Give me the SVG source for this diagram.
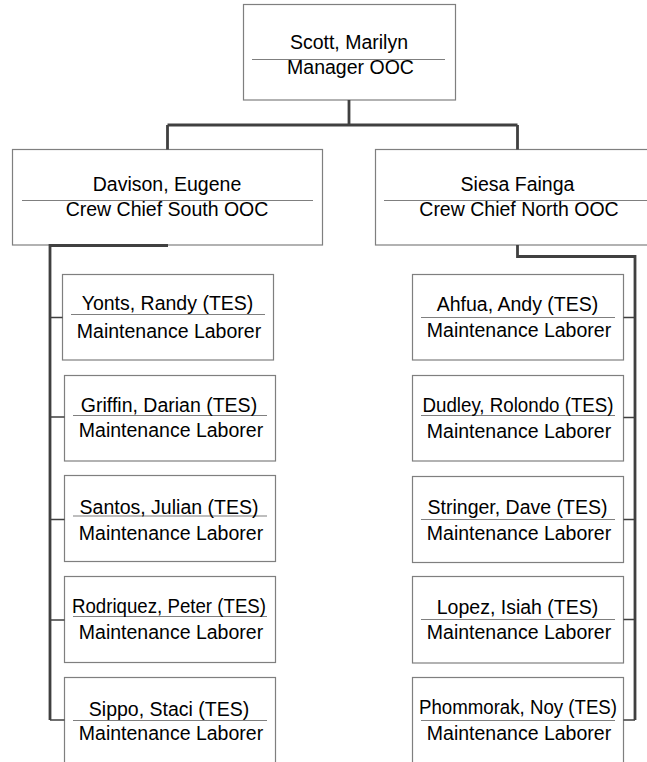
<svg xmlns="http://www.w3.org/2000/svg" width="647" height="762" viewBox="0 0 647 762">
<style>
.box{fill:#fff;stroke:#7f7f7f;stroke-width:1.2}
.sep{stroke:#7f7f7f;stroke-width:1.2;fill:none}
.conn{stroke:#404040;stroke-width:2.8;fill:none;stroke-linejoin:miter}
.tick{stroke:#404040;stroke-width:1.6;fill:none}
text{font-family:"Liberation Sans",Arial,sans-serif;font-size:19.5px;fill:#000;text-anchor:middle}
</style>
<rect width="647" height="762" fill="#fff"/>
<g id="n-scott">
<rect class="box" x="243.5" y="4.5" width="212" height="95.5"/>
<line class="sep" x1="252" y1="59.5" x2="445" y2="59.5"/>
<text x="349" y="48.5">Scott, Marilyn</text>
<text x="350.5" y="74">Manager OOC</text>
</g>
<g id="n-davison">
<rect class="box" x="12.5" y="149.5" width="310" height="95.5"/>
<line class="sep" x1="22" y1="200.5" x2="313" y2="200.5"/>
<text x="167" y="190.5">Davison, Eugene</text>
<text x="167" y="215.5">Crew Chief South OOC</text>
</g>
<g id="n-siesa">
<rect class="box" x="375.5" y="149.5" width="300" height="95.5"/>
<line class="sep" x1="384" y1="200.5" x2="660" y2="200.5"/>
<text x="517.5" y="190.5">Siesa Fainga</text>
<text x="519" y="215.5">Crew Chief North OOC</text>
</g>
<g id="n-yonts">
<rect class="box" x="62.5" y="274.5" width="211" height="85.5"/>
<line class="sep" x1="71" y1="314.5" x2="265" y2="314.5"/>
<text x="167.5" y="310">Yonts, Randy (TES)</text>
<text x="169" y="337.5">Maintenance Laborer</text>
</g>
<g id="n-griffin">
<rect class="box" x="64.5" y="375.5" width="211" height="85.5"/>
<line class="sep" x1="73" y1="415.5" x2="267" y2="415.5"/>
<text x="169" y="411.5">Griffin, Darian (TES)</text>
<text x="171" y="437">Maintenance Laborer</text>
</g>
<g id="n-santos">
<rect class="box" x="64.5" y="475.5" width="211" height="86"/>
<line class="sep" x1="73" y1="516" x2="267" y2="516"/>
<text x="169" y="513.5">Santos, Julian (TES)</text>
<text x="171" y="539.5">Maintenance Laborer</text>
</g>
<g id="n-rodriquez">
<rect class="box" x="64.5" y="576.5" width="211" height="86"/>
<line class="sep" x1="73" y1="616.5" x2="267" y2="616.5"/>
<text x="169" y="613" textLength="194" lengthAdjust="spacingAndGlyphs">Rodriquez, Peter (TES)</text>
<text x="171" y="638.5">Maintenance Laborer</text>
</g>
<g id="n-sippo">
<rect class="box" x="64.5" y="677.5" width="211" height="86"/>
<line class="sep" x1="73" y1="720.5" x2="267" y2="720.5"/>
<text x="169" y="716">Sippo, Staci (TES)</text>
<text x="171" y="739.5">Maintenance Laborer</text>
</g>
<g id="n-ahfua">
<rect class="box" x="412.5" y="274.5" width="211" height="85.5"/>
<line class="sep" x1="421" y1="317.5" x2="615" y2="317.5"/>
<text x="517.5" y="310.5">Ahfua, Andy (TES)</text>
<text x="519" y="337">Maintenance Laborer</text>
</g>
<g id="n-dudley">
<rect class="box" x="412.5" y="375.5" width="211" height="85.5"/>
<line class="sep" x1="421" y1="415.5" x2="615" y2="415.5"/>
<text x="518" y="412" textLength="191" lengthAdjust="spacingAndGlyphs">Dudley, Rolondo (TES)</text>
<text x="519" y="437.5">Maintenance Laborer</text>
</g>
<g id="n-stringer">
<rect class="box" x="412.5" y="476.5" width="211" height="86"/>
<line class="sep" x1="421" y1="519.5" x2="615" y2="519.5"/>
<text x="517.5" y="513.5">Stringer, Dave (TES)</text>
<text x="519" y="539.5">Maintenance Laborer</text>
</g>
<g id="n-lopez">
<rect class="box" x="412.5" y="576.5" width="211" height="86.5"/>
<line class="sep" x1="421" y1="619.5" x2="615" y2="619.5"/>
<text x="517.5" y="613.5">Lopez, Isiah (TES)</text>
<text x="519" y="638.5">Maintenance Laborer</text>
</g>
<g id="n-phommorak">
<rect class="box" x="412.5" y="677.5" width="211" height="86"/>
<line class="sep" x1="421" y1="720.5" x2="615" y2="720.5"/>
<text x="518" y="713.5" textLength="198" lengthAdjust="spacingAndGlyphs">Phommorak, Noy (TES)</text>
<text x="519" y="739.5">Maintenance Laborer</text>
</g>
<g id="connectors">
<path class="conn" d="M349,100 V125 M167.5,125 H517.5 M167.5,125 V149.5 M517.5,125 V149.5"/>
<path class="conn" d="M168,245.5 H50 V720"/>
<path class="conn" d="M517.5,245 V256.5 H635 V720"/>
<path class="tick" d="M50,317.5 H62.5 M50,417 H64.5 M50,519.5 H64.5 M50,620 H64.5 M50,720 H64.5"/>
<path class="tick" d="M623.5,317.5 H635 M623.5,417.5 H635 M623.5,519.5 H635 M623.5,619.5 H635 M623.5,720 H635"/>
</g>
</svg>
